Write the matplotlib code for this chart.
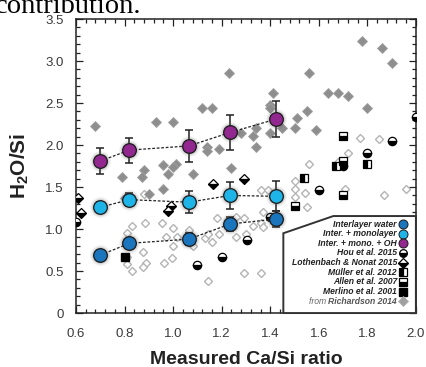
import matplotlib
matplotlib.use("Agg")
import matplotlib.pyplot as plt
from matplotlib.patches import Polygon

plt.rcParams['font.family'] = ['Liberation Sans', 'DejaVu Sans']
plt.rcParams['mathtext.fontset'] = 'custom'
plt.rcParams['mathtext.rm'] = 'Liberation Sans'
plt.rcParams['mathtext.bf'] = 'Liberation Sans:bold'

# ---------------------------------------------
# data
# ---------------------------------------------
ca_si = [0.70, 0.82, 1.065, 1.235, 1.425]

inter_y = [0.69, 0.83, 0.88, 1.06, 1.12]
inter_err = [0.03, 0.04, 0.07, 0.08, 0.10]

mono_y = [1.26, 1.35, 1.32, 1.40, 1.39]
mono_err = [0.06, 0.08, 0.13, 0.16, 0.18]

oh_y = [1.81, 1.94, 1.99, 2.15, 2.31]
oh_err = [0.15, 0.15, 0.19, 0.21, 0.21]

# Richardson 2014, filled grey diamonds
rich_fill_x = [0.68, 0.93, 1.00, 1.12, 1.16, 1.23, 1.41, 1.40, 1.40, 1.56,
               1.64, 1.68, 1.72, 1.78, 1.86, 1.90, 1.80, 1.55, 1.51, 1.28,
               1.34, 1.33, 1.40, 1.45, 1.50, 1.59, 1.34, 1.14, 1.14, 1.19,
               1.24, 1.08, 0.79, 0.88, 0.87, 0.96, 1.01, 1.00, 0.98, 0.96,
               0.90, 0.80]
rich_fill_y = [2.23, 2.28, 2.28, 2.44, 2.44, 2.86, 2.62, 2.48, 2.44, 2.86,
               2.62, 2.62, 2.59, 3.24, 3.16, 2.98, 2.44, 2.40, 2.32, 2.14,
               2.20, 2.11, 2.14, 2.20, 2.20, 2.18, 1.98, 1.98, 1.93, 1.95,
               1.73, 1.65, 1.62, 1.70, 1.62, 1.76, 1.78, 1.74, 1.66, 1.48,
               1.42, 1.37]

# Richardson 2014, open diamonds
rich_open_x = [0.83, 0.81, 0.885, 0.955, 1.00, 0.97, 1.015, 1.00, 0.876, 0.81,
               0.81, 0.83, 0.89, 0.876, 0.963, 0.996, 1.066, 1.08, 1.13, 1.145,
               1.145, 1.16, 1.19, 1.26, 1.30, 1.29, 1.36, 1.29, 1.33, 1.36,
               1.37, 1.37, 1.26, 1.18, 0.88, 1.36, 1.39, 1.50, 1.50, 1.50,
               1.545, 1.55, 1.56, 1.68, 1.72, 1.77, 1.85, 1.71, 1.87, 1.96]
rich_open_y = [1.04, 0.95, 1.07, 1.07, 1.01, 0.90, 0.91, 0.80, 0.73, 0.67,
               0.58, 0.50, 0.60, 0.55, 0.60, 0.66, 0.99, 0.80, 0.89, 0.94,
               0.38, 0.84, 0.94, 0.90, 0.94, 0.48, 0.48, 1.13, 1.04, 1.07,
               1.02, 1.20, 1.14, 1.13, 1.42, 1.47, 1.46, 1.57, 1.48, 1.38,
               1.43, 1.26, 1.78, 1.80, 1.91, 2.08, 2.07, 1.48, 1.40, 1.48]

hou_x = [1.10, 1.20, 1.305, 1.40, 1.60, 1.70, 1.80, 1.90, 2.00, 0.60]
hou_y = [0.57, 0.67, 0.87, 1.14, 1.46, 1.75, 1.90, 2.05, 2.33, 1.08]

loth_x = [1.165, 1.29, 0.99, 0.98, 0.81, 0.61, 0.62]
loth_y = [1.54, 1.60, 1.28, 1.22, 1.35, 1.37, 1.19]

muller_x = [1.54, 1.67, 1.80]
muller_y = [1.61, 1.75, 1.77]

allen_x = [1.70, 1.70, 1.70, 1.50]
allen_y = [2.11, 1.81, 1.40, 1.27]

merlino_x = [0.80]
merlino_y = [0.67]

legend_labels = ["Interlayer water", "Inter. + monolayer", "Inter. + mono. + OH",
                 "Hou et al. 2015", "Lothenbach & Nonat 2015", "Müller et al. 2012",
                 "Allen et al. 2007", "Merlino et al. 2001", "Richardson 2014"]

c_inter = '#1b75bc'
c_mono = '#1fb4e8'
c_oh = '#92278f'

fig = plt.figure(figsize=(4.27, 3.67), dpi=100)
ax = fig.add_axes([0.178, 0.147, 0.796, 0.801])

# text cut off from the page above the chart
fig.text(-0.012, 1 - 13 / 367, "contribution.", family='Liberation Serif',
         fontsize=20.5, va='baseline', ha='left')

# Richardson points
ax.plot(rich_open_x, rich_open_y, ls='none', marker='D', ms=4.4, mfc='white',
        mec='#b4b4b4', mew=1.0, zorder=2)
ax.plot(rich_fill_x, rich_fill_y, ls='none', marker='D', ms=4.8, mfc='#8e8e8e',
        mec='#a0a0a0', mew=0.6, zorder=2)

# literature symbols
half = dict(ls='none', mfc='black', mfcalt='white', mec='black', mew=0.9, zorder=3)
ax.plot(hou_x, hou_y, marker='o', ms=6, fillstyle='bottom', **half)
ax.plot(loth_x, loth_y, marker='D', ms=5.5, fillstyle='bottom', **half)
ax.plot(muller_x, muller_y, marker='s', ms=5.5, fillstyle='left', **half)
ax.plot(allen_x, allen_y, marker='s', ms=5.5, fillstyle='bottom', **half)
ax.plot(merlino_x, merlino_y, ls='none', marker='s', ms=6, color='black', zorder=3)

# calculated series
for yv, err, col in [(inter_y, inter_err, c_inter), (mono_y, mono_err, c_mono),
                     (oh_y, oh_err, c_oh)]:
    ax.plot(ca_si, yv, ls=(0, (2.2, 1.4)), lw=0.9, color='#222222', zorder=4)
    ax.errorbar(ca_si, yv, yerr=err, fmt='none', ecolor='#222222', elinewidth=1.1,
                capsize=2.6, capthick=1.1, zorder=4)
    # soft glow
    for ms, a in [(15, 0.08), (13, 0.12), (11.5, 0.18)]:
        ax.plot(ca_si, yv, ls='none', marker='o', ms=ms, mfc='#555555', mec='none',
                alpha=a, zorder=4.5)
    ax.plot(ca_si, yv, ls='none', marker='o', ms=9.8, mfc=col, mec='#1a1a1a',
            mew=0.9, zorder=5)

ax.set_xlim(0.6, 2.0)
ax.set_ylim(0, 3.5)
ax.set_xticks([0.6, 0.8, 1.0, 1.2, 1.4, 1.6, 1.8, 2.0])
ax.set_xticks([0.6 + 0.04 * i for i in range(36)], minor=True)
ax.set_yticks([0, 0.5, 1.0, 1.5, 2.0, 2.5, 3.0, 3.5])
ax.set_yticklabels(['0', '0.5', '1.0', '1.5', '2.0', '2.5', '3.0', '3.5'])
ax.set_yticks([0.1 * i for i in range(36)], minor=True)
ax.tick_params(which='both', direction='in', top=True, right=True,
               color='#222222', width=0.9)
ax.tick_params(which='major', length=5, labelsize=9.5, labelcolor='#3a3a3a')
ax.tick_params(which='minor', length=3)
ax.tick_params(axis='x', which='major', pad=11)
ax.tick_params(axis='y', which='major', pad=9)
for sp in ax.spines.values():
    sp.set_color('#222222')
    sp.set_linewidth(1.1)

ax.set_xlabel("Measured Ca/Si ratio", fontsize=14, fontweight='bold',
              color='#222222', labelpad=8)
ax.set_ylabel(r"$\mathbf{H_2O/Si}$", fontsize=15, color='#222222', labelpad=10)

# ---------------------------------------------
# hand-made legend box
# ---------------------------------------------
box = Polygon([(1.454, 0), (1.454, 0.95), (1.66, 1.155), (2.0, 1.155), (2.0, 0)],
              closed=True, facecolor='white', edgecolor='#333333', lw=1.4,
              zorder=6, clip_on=False)
ax.add_patch(box)

leg_y = [1.06, 0.945, 0.83, 0.715, 0.60, 0.485, 0.37, 0.255, 0.14]
tx, mx = 1.922, 1.948
for lab, yy in zip(legend_labels[:-1], leg_y[:-1]):
    ax.text(tx, yy, lab, fontsize=6.2, fontweight='bold', style='italic',
            ha='right', va='center', color='#222222', zorder=7)
t_last = ax.text(tx, leg_y[-1], legend_labels[-1], fontsize=6.2, fontweight='bold',
                 style='italic', ha='right', va='center', color='#555555', zorder=7)

mk = dict(zorder=8, clip_on=False, ls='none')
ax.plot([mx], [leg_y[0]], marker='o', ms=6.5, mfc=c_inter, mec='#1a1a1a', mew=0.7, **mk)
ax.plot([mx], [leg_y[1]], marker='o', ms=6.5, mfc=c_mono, mec='#1a1a1a', mew=0.7, **mk)
ax.plot([mx], [leg_y[2]], marker='o', ms=6.5, mfc=c_oh, mec='#1a1a1a', mew=0.7, **mk)
hl = dict(mfc='black', mfcalt='white', mec='black', mew=0.9, **mk)
ax.plot([mx], [leg_y[3]], marker='o', ms=5.5, fillstyle='bottom', **hl)
ax.plot([mx], [leg_y[4]], marker='D', ms=5, fillstyle='bottom', **hl)
ax.plot([mx], [leg_y[5]], marker='s', ms=5.5, fillstyle='left', **hl)
ax.plot([mx], [leg_y[6]], marker='s', ms=5.5, fillstyle='bottom', **hl)
ax.plot([mx], [leg_y[7]], marker='s', ms=5.5, color='black', **mk)
ax.plot([mx], [leg_y[8]], marker='D', ms=5.5, mfc='#a0a0a0', mec='#b0b0b0', mew=0.6, **mk)

# "from" in plain italic, in front of the bold name
fig.canvas.draw()
bb = t_last.get_window_extent()
x_left = ax.transData.inverted().transform((bb.x0, bb.y0))[0]
ax.text(x_left, leg_y[-1], "from ", fontsize=6.2, style='italic', ha='right',
        va='center', color='#666666', zorder=7)

fig.savefig("out.png", dpi=100)
